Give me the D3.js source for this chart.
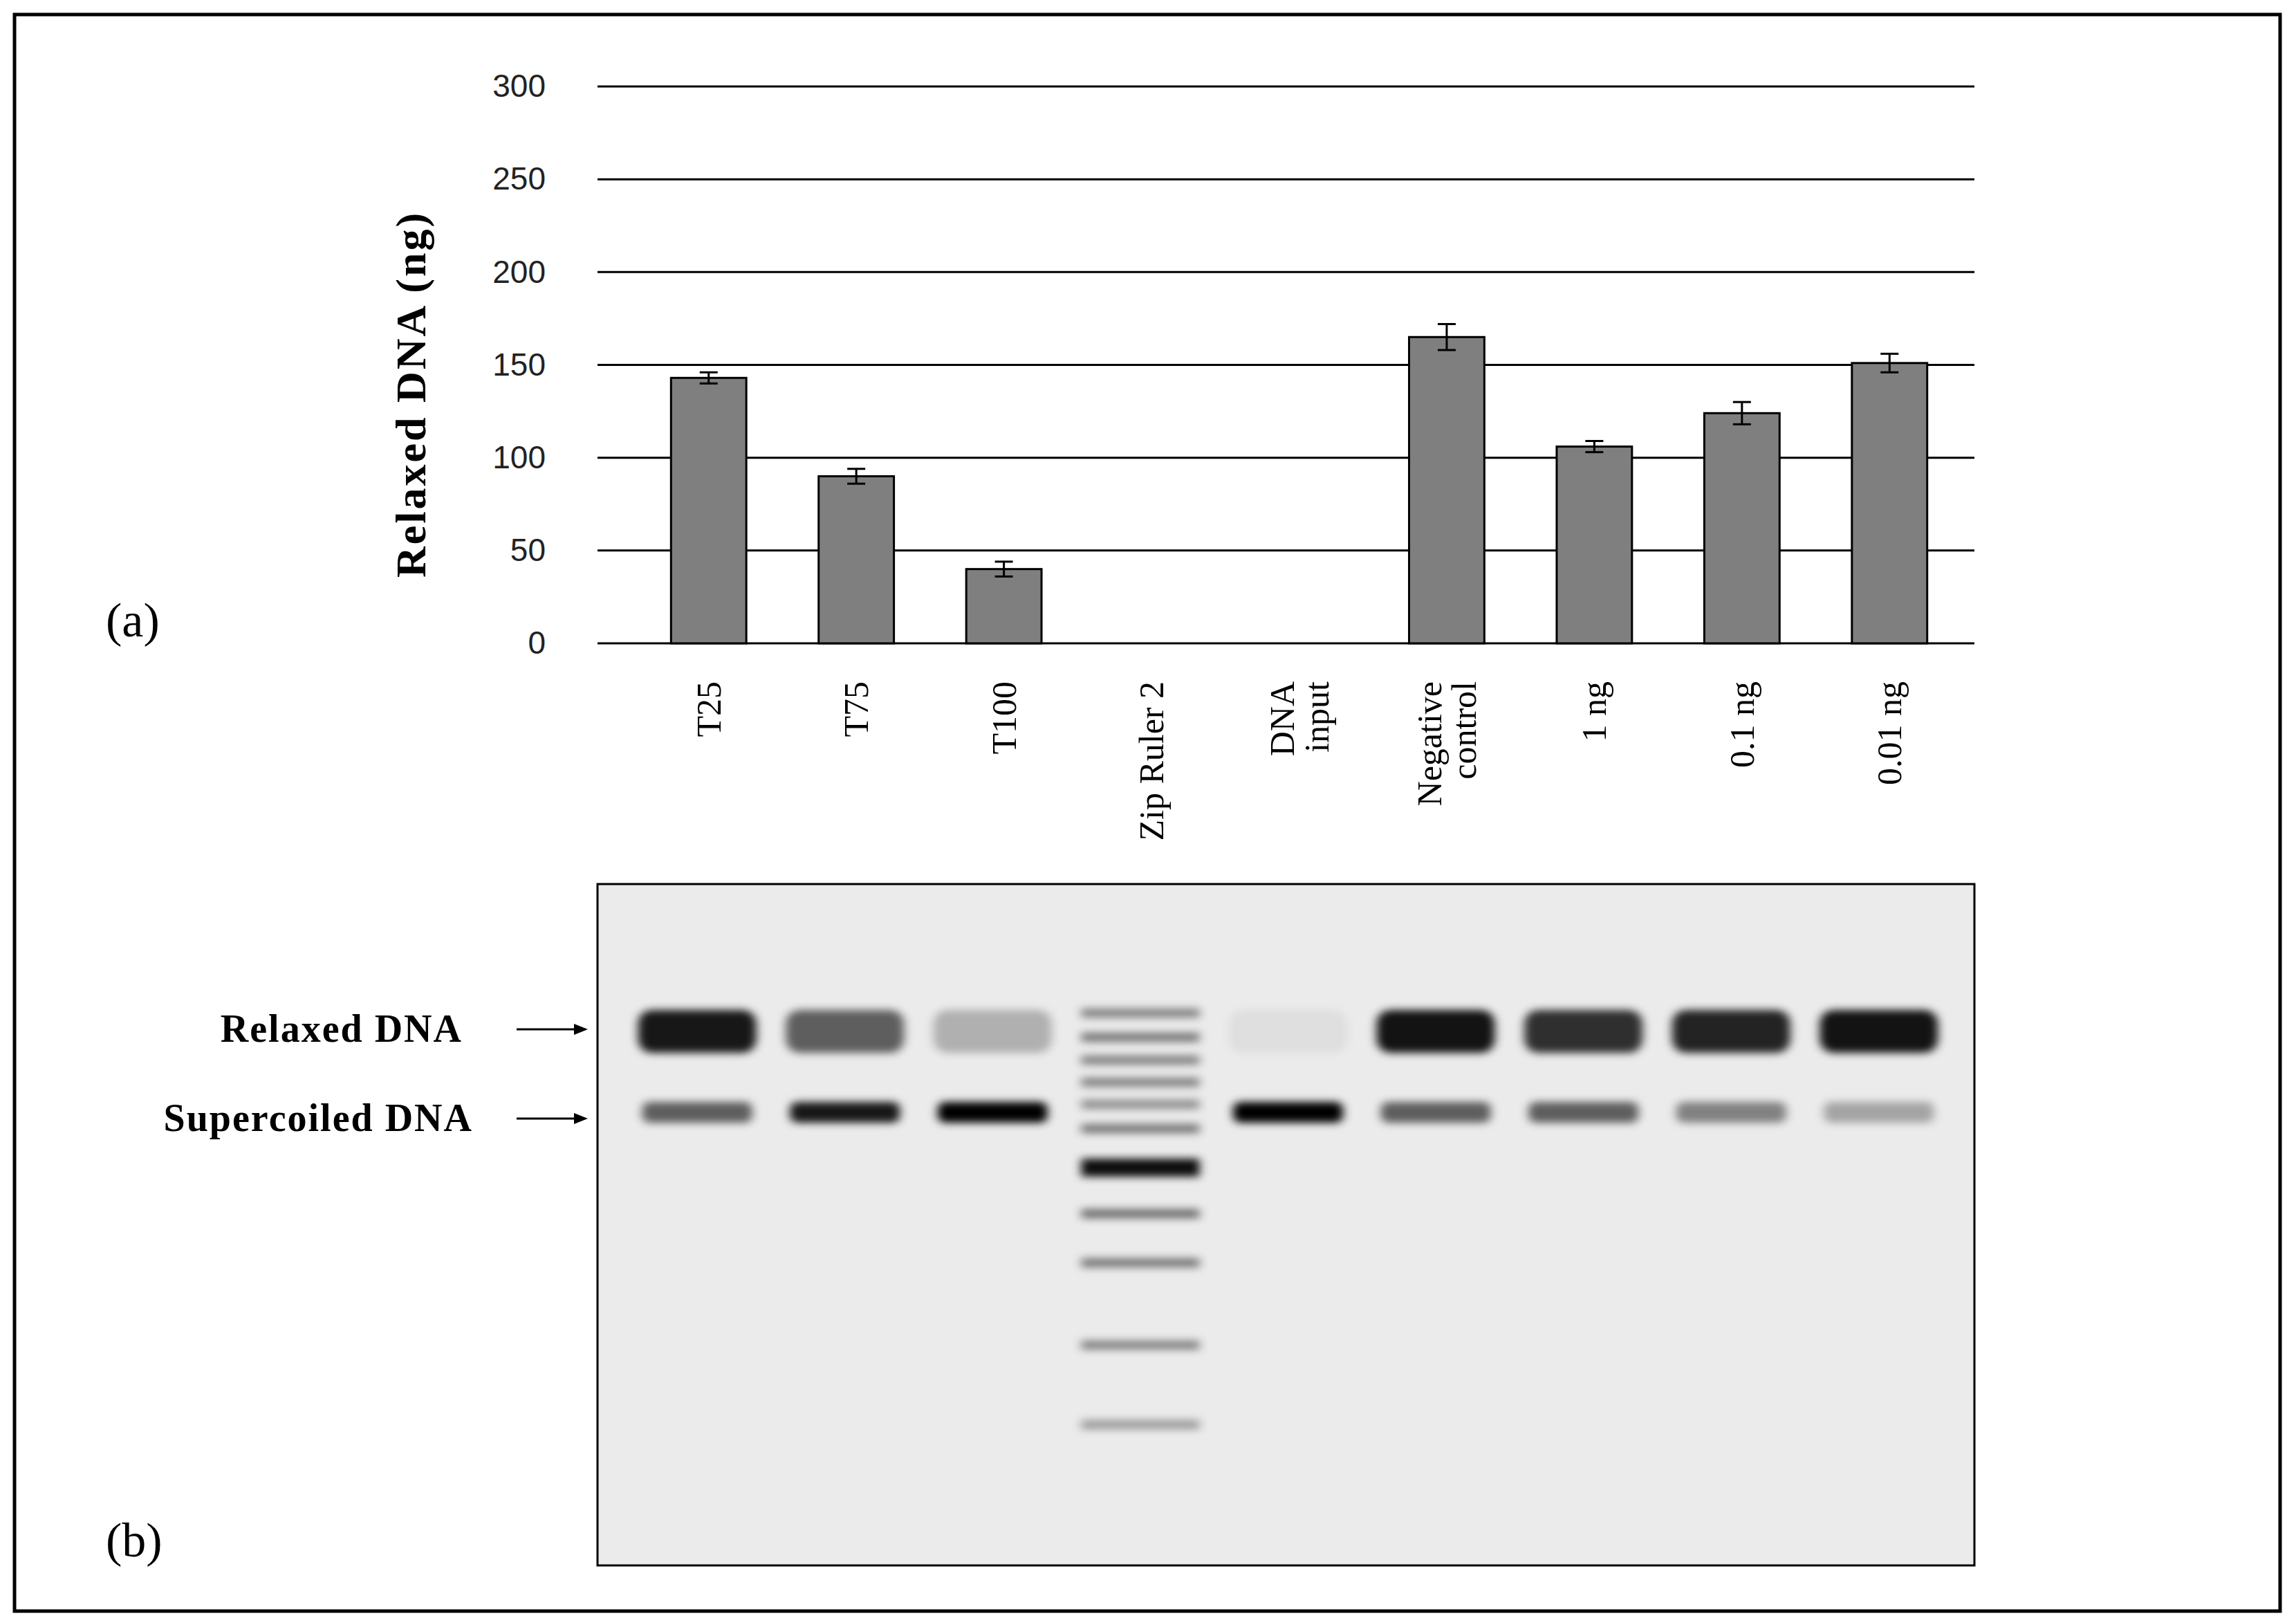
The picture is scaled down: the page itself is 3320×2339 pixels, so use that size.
<!DOCTYPE html>
<html><head><meta charset="utf-8">
<script src="https://cdn.jsdelivr.net/npm/d3@7"></script>
<style>body{margin:0;background:#fff}</style>
</head><body><div id="chart"></div>
<script>
// data
let categories = ["T25", "T75", "T100", "Zip Ruler 2", "DNA input", "Negative control", "1 ng", "0.1 ng", "0.01 ng"];
let labelLines = [["T25"], ["T75"], ["T100"], ["Zip Ruler 2"], ["DNA", "input"], ["Negative", "control"], ["1 ng"], ["0.1 ng"], ["0.01 ng"]];
let values = [143, 90, 40, 0, 0, 165, 106, 124, 151];
let errors = [3, 4, 4, 0, 0, 7, 3, 6, 5];
let yTicks = [0, 50, 100, 150, 200, 250, 300];
// gel band intensities per lane (null = ladder lane)
let relaxedBand = [0.9, 0.6, 0.25, null, 0.05, 0.92, 0.8, 0.85, 0.92];
let supercoiledBand = [0.6, 0.9, 1.0, null, 1.0, 0.6, 0.6, 0.45, 0.3];
let ladderY = [1465, 1500, 1533, 1565, 1597, 1632, 1682, 1755, 1826, 1945, 2060];
let ladderI = [0.45, 0.5, 0.45, 0.45, 0.4, 0.5, 0.95, 0.55, 0.5, 0.45, 0.35];

let W = 3320, H = 2339;
let svg = d3.select("#chart").append("svg").attr("width", W).attr("height", H);
let serif = "'Liberation Serif','DejaVu Serif',serif";
let narrow = "'Liberation Sans Narrow','Liberation Sans',sans-serif";

svg.append("rect").attr("x", 21).attr("y", 21).attr("width", 3276).attr("height", 2308)
    .attr("fill", "none").attr("stroke", "#000").attr("stroke-width", 5);

let x0 = 864, x1 = 2855;
let y = d3.scaleLinear().domain([0, 300]).range([930, 125]);
let x = d3.scaleBand().domain(categories).range([918, 2839]).paddingInner(0.49).paddingOuter(0.245);

// gridlines
svg.append("g").selectAll("line").data(yTicks).join("line")
    .attr("x1", x0).attr("x2", x1).attr("y1", d => y(d)).attr("y2", d => y(d))
    .attr("stroke", "#000").attr("stroke-width", 3);

let yAxis = svg.append("g").attr("transform", "translate(" + (x0 - 75) + ",0)")
    .call(d3.axisLeft(y).tickValues(yTicks).tickSize(0).tickPadding(0));
yAxis.select(".domain").remove();
yAxis.selectAll("text").attr("font-family", narrow).attr("font-size", 46).attr("fill", "#222");

svg.append("text").attr("transform", "translate(615,570) rotate(-90)")
    .attr("text-anchor", "middle").attr("font-family", serif).attr("font-weight", "bold")
    .attr("font-size", 62).attr("letter-spacing", 3).text("Relaxed DNA (ng)");

// bars
svg.append("g").selectAll("rect").data(values).join("rect")
    .attr("x", (d, i) => x(categories[i])).attr("width", x.bandwidth())
    .attr("y", d => y(d)).attr("height", d => y(0) - y(d))
    .attr("fill", "#7f7f7f").attr("stroke", "#000").attr("stroke-width", 3)
    .style("display", d => d > 0 ? null : "none");

// error bars
let eb = svg.append("g").attr("stroke", "#000").attr("stroke-width", 3);
values.forEach((v, i) => {
    if (v <= 0) return;
    let cx = x(categories[i]) + x.bandwidth() / 2;
    eb.append("line").attr("x1", cx).attr("x2", cx).attr("y1", y(v + errors[i])).attr("y2", y(v - errors[i]));
    [v + errors[i], v - errors[i]].forEach(e => eb.append("line")
        .attr("x1", cx - 13).attr("x2", cx + 13).attr("y1", y(e)).attr("y2", y(e)));
});

// category labels
labelLines.forEach((lines, i) => {
    let cx = x(categories[i]) + x.bandwidth() / 2;
    lines.forEach((t, j) => {
        let off = (j - (lines.length - 1) / 2) * 50;
        svg.append("text").attr("transform", "translate(" + (cx + off + 17) + ",985) rotate(-90)")
            .attr("text-anchor", "end").attr("font-family", serif).attr("font-size", 50).text(t);
    });
});

svg.append("text").attr("x", 153).attr("y", 920).attr("font-family", serif).attr("font-size", 70).text("(a)");
svg.append("text").attr("x", 153).attr("y", 2250).attr("font-family", serif).attr("font-size", 70).text("(b)");

// gel
let defs = svg.append("defs");
defs.append("filter").attr("id", "blur").attr("x", "-30%").attr("y", "-100%").attr("width", "160%").attr("height", "300%")
    .append("feGaussianBlur").attr("stdDeviation", "7 6");
defs.append("clipPath").attr("id", "gelclip").append("rect")
    .attr("x", x0).attr("y", 1278).attr("width", x1 - x0).attr("height", 985);
svg.append("rect").attr("x", x0).attr("y", 1278).attr("width", x1 - x0).attr("height", 985)
    .attr("fill", "#ebebeb").attr("stroke", "#000").attr("stroke-width", 3);
let gel = svg.append("g").attr("clip-path", "url(#gelclip)").attr("filter", "url(#blur)");
let gx = d3.scaleBand().domain(categories).range([880, 2845]).padding(0.2);
categories.forEach((c, i) => {
    let lx = gx(c), lw = gx.bandwidth();
    if (relaxedBand[i] === null) {
        ladderY.forEach((yy, k) => gel.append("rect").attr("x", lx).attr("y", yy - 7).attr("width", lw)
            .attr("height", k === 6 ? 26 : 13).attr("fill", "#000").attr("opacity", ladderI[k]));
        return;
    }
    gel.append("rect").attr("x", lx).attr("y", 1460).attr("width", lw).attr("height", 62).attr("rx", 20)
        .attr("fill", "#000").attr("opacity", relaxedBand[i]);
    gel.append("rect").attr("x", lx + 6).attr("y", 1593).attr("width", lw - 12).attr("height", 30).attr("rx", 10)
        .attr("fill", "#000").attr("opacity", supercoiledBand[i]);
});

// band labels
[["Relaxed  DNA", 1488], ["Supercoiled  DNA", 1617]].forEach(([t, yy], k) => {
    svg.append("text").attr("x", k ? 684 : 669).attr("y", yy + 18).attr("text-anchor", "end")
        .attr("font-family", serif).attr("font-weight", "bold").attr("font-size", 56)
        .attr("letter-spacing", 2).text(t);
    svg.append("line").attr("x1", 747).attr("x2", 838).attr("y1", yy).attr("y2", yy)
        .attr("stroke", "#000").attr("stroke-width", 3);
    svg.append("path").attr("d", `M850,${yy} L830,${yy - 8} L830,${yy + 8} Z`).attr("fill", "#000");
});
</script></body></html>
